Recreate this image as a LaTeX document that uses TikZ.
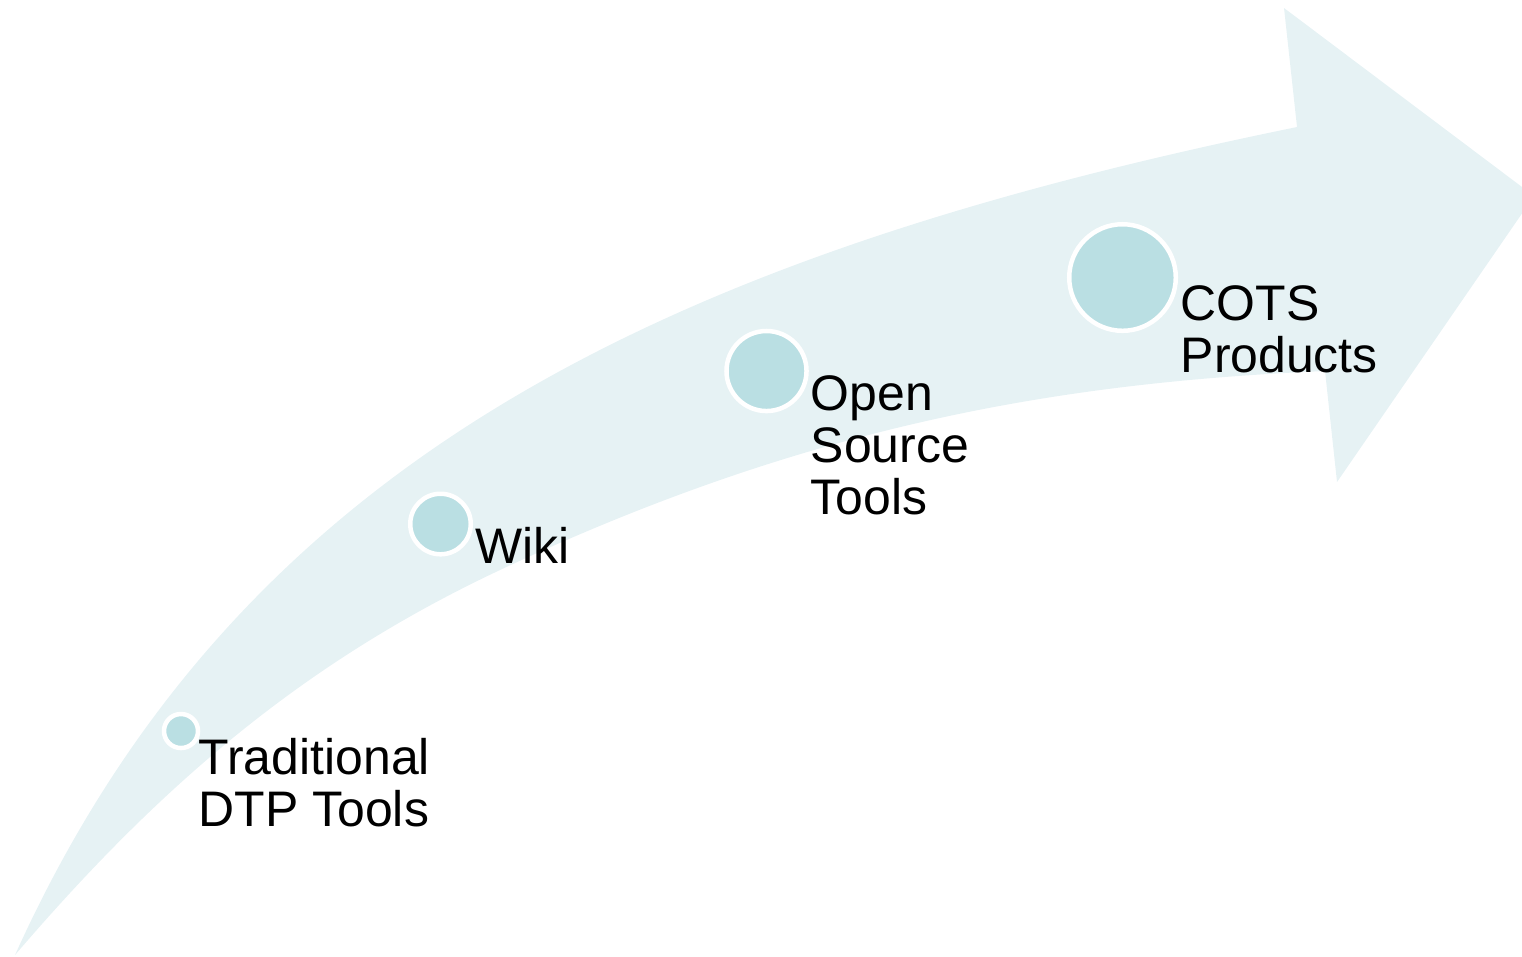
\documentclass[tikz,border=0pt]{standalone}
\usepackage{fontspec}
\setmainfont{Liberation Sans}
\definecolor{arrowfill}{RGB}{230,242,244}
\definecolor{dotfill}{RGB}{186,223,227}
\begin{document}
\begin{tikzpicture}[x=0.01cm,y=-0.01cm,
  dot/.style={circle, fill=dotfill, draw=white, line width=0.045cm, inner sep=0pt},
  lbl/.style={anchor=base west, inner sep=0pt, font=\fontsize{14.2pt}{14.9pt}\selectfont}]
\useasboundingbox (0,0) rectangle (1522,956);
\clip (0,0) rectangle (1522,956);
\fill[arrowfill] (15,955) .. controls (237,463) and (660,257) .. (1297,127)
  -- (1284,8) -- (1534,196) -- (1337,482) -- (1325,371)
  .. controls (1045,383) and (799,430) .. (500,570)
  .. controls (301,663.5) and (158,788) .. (15,955) -- cycle;
\node[dot, minimum size=0.34cm] (d1) at (181,731) {};
\node[dot, minimum size=0.605cm] (d2) at (440.5,524) {};
\node[dot, minimum size=0.80cm] (d3) at (766.5,371) {};
\node[dot, minimum size=1.065cm] (d4) at (1122.5,277.5) {};
\node[lbl] (t1) at (198,774) {\vtop{\hbox{Traditional}\hbox{DTP Tools}}};
\node[lbl] (t2) at (475,563) {Wiki};
\node[lbl] (t3) at (810,410) {\vtop{\hbox{Open}\hbox{Source}\hbox{Tools}}};
\node[lbl] (t4) at (1180,320) {\vtop{\hbox{COTS}\hbox{Products}}};
\end{tikzpicture}
\end{document}
